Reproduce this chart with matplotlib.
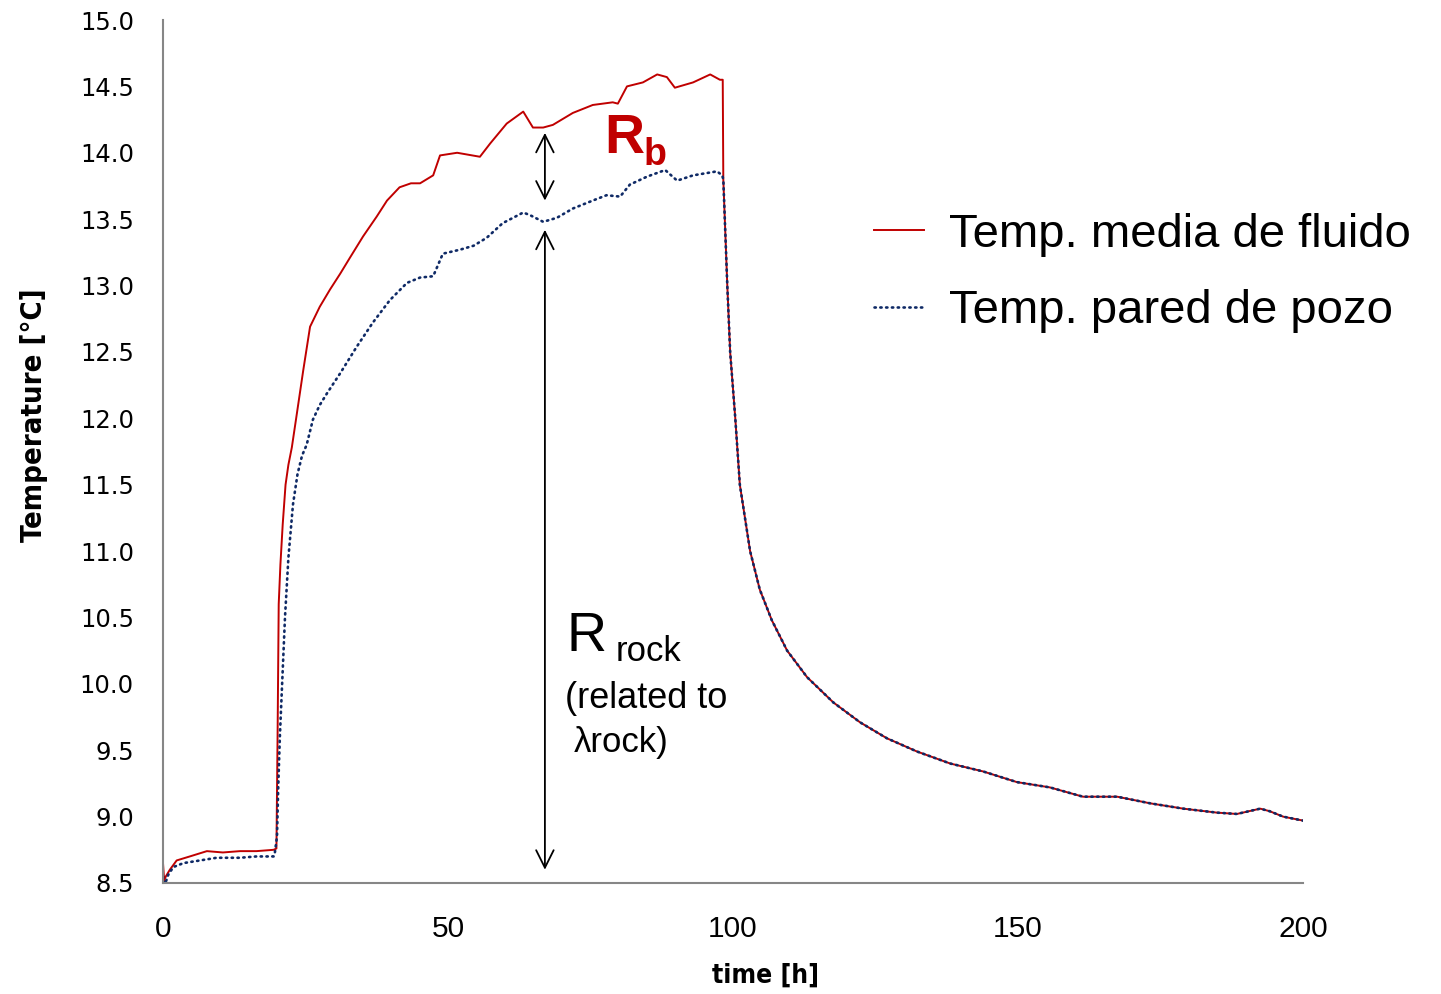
import matplotlib

matplotlib.use("Agg")

import matplotlib.pyplot as plt

# time [h] and temperature [C]
t_fluid_heat = [0.0, 0.2, 0.5, 1.2, 2.4, 4.7, 7.7, 10.5, 13.5, 16.4, 19.4, 19.9,
                20.1, 20.3, 20.6, 21.0, 21.5, 22.0, 22.6, 23.5, 24.6, 25.8, 27.5,
                29.3, 31.1, 32.8, 35.1, 37.5, 39.3, 41.5, 43.5, 45.1, 47.4, 48.6,
                51.6, 55.6, 57.4, 60.3, 63.2, 64.9, 66.7, 68.4, 71.9, 75.4, 78.9,
                79.8, 81.4, 84.2, 86.7, 88.4, 89.8, 93.0, 96.0, 97.7, 98.2]
v_fluid_heat = [8.65, 8.52, 8.55, 8.60, 8.67, 8.70, 8.74, 8.73, 8.74, 8.74, 8.75, 8.76,
                9.60, 10.60, 10.90, 11.20, 11.50, 11.65, 11.78, 12.04, 12.36, 12.69, 12.84,
                12.97, 13.09, 13.21, 13.37, 13.52, 13.64, 13.74, 13.77, 13.77, 13.83, 13.98,
                14.00, 13.97, 14.07, 14.22, 14.31, 14.19, 14.19, 14.21, 14.30, 14.36, 14.38,
                14.37, 14.50, 14.53, 14.59, 14.57, 14.49, 14.53, 14.59, 14.55, 14.55]

t_wall_heat = [0.0, 0.35, 0.9, 1.8, 3.6, 6.5, 9.4, 13.5, 16.4, 19.4, 19.6, 20.0,
               20.2, 20.5, 20.9, 21.4, 22.0, 22.8, 23.6, 24.4, 25.2, 26.3, 27.5,
               28.8, 31.1, 34.0, 36.8, 39.8, 42.8, 45.1, 47.4, 48.2, 49.1, 52.1,
               54.5, 56.8, 59.6, 63.2, 64.4, 66.7, 69.1, 71.9, 75.4, 77.8, 80.2,
               81.9, 84.9, 88.1, 90.2, 93.0, 97.2, 98.1]
v_wall_heat = [8.55, 8.49, 8.56, 8.62, 8.65, 8.67, 8.69, 8.69, 8.70, 8.70, 8.72, 8.85,
               9.20, 9.60, 10.00, 10.50, 10.95, 11.35, 11.58, 11.72, 11.80, 11.99, 12.10,
               12.19, 12.34, 12.54, 12.72, 12.89, 13.02, 13.06, 13.07, 13.15, 13.24, 13.27,
               13.30, 13.36, 13.47, 13.55, 13.53, 13.48, 13.51, 13.58, 13.64, 13.68, 13.67,
               13.76, 13.82, 13.87, 13.79, 13.83, 13.86, 13.83]

# recovery part: both curves lie on top of each other
t_decay = [98.3, 99.0, 99.5, 100.4, 101.2, 103.0, 104.7, 106.8, 109.5, 113.0, 117.6,
           122.3, 127.0, 132.3, 138.1, 143.9, 149.8, 155.6, 161.4, 167.4, 173.2,
           179.0, 184.9, 188.4, 192.5, 194.2, 196.5, 200.0]
v_decay = [13.80, 13.00, 12.50, 12.00, 11.50, 11.00, 10.71, 10.48, 10.25, 10.05, 9.86,
           9.71, 9.59, 9.49, 9.40, 9.34, 9.26, 9.22, 9.15, 9.15, 9.10,
           9.06, 9.03, 9.02, 9.06, 9.04, 9.00, 8.97]

labels = ["Temp. media de fluido", "Temp. pared de pozo"]
y_ticks = [8.5, 9.0, 9.5, 10.0, 10.5, 11.0, 11.5, 12.0, 12.5, 13.0, 13.5, 14.0, 14.5, 15.0]
x_ticks = [0, 50, 100, 150, 200]

RED = "#c00000"
NAVY = "#0f2a66"
GREY = "#868686"
SANS = ["Liberation Sans", "DejaVu Sans"]

fig = plt.figure(figsize=(14.41, 9.94), dpi=100)
ax = fig.add_axes([163 / 1441, 111 / 994, 1140 / 1441, 863 / 994])

ax.plot(t_fluid_heat + t_decay, v_fluid_heat + v_decay, color=RED, lw=1.4, label=labels[0])
ax.plot(t_wall_heat + t_decay, v_wall_heat + v_decay, color=NAVY, lw=1.9,
        linestyle=(0, (0.5, 1.7)), dash_capstyle="round", label=labels[1])

ax.set_xlim(0, 200)
ax.set_ylim(8.5, 15.0)
ax.set_xticks(x_ticks)
ax.set_xticklabels([str(v) for v in x_ticks], family=SANS, fontsize=21.5)
ax.set_yticks(y_ticks)
ax.set_yticklabels([f"{v:.1f}" for v in y_ticks], family="DejaVu Sans", fontsize=17.5)
ax.tick_params(axis="both", length=0)
ax.tick_params(axis="y", pad=21)
ax.tick_params(axis="x", pad=23)

for side in ("top", "right"):
    ax.spines[side].set_visible(False)
for side in ("left", "bottom"):
    ax.spines[side].set_color(GREY)
    ax.spines[side].set_linewidth(1.5)

ax.set_xlabel("time [h]", family="DejaVu Sans", fontstretch="condensed",
              fontweight="bold", fontsize=19)
ax.set_ylabel("Temperature [°C]", family="DejaVu Sans", fontstretch="condensed",
              fontweight="bold", fontsize=21)
ax.xaxis.set_label_coords((765 - 163) / 1140, -(963 - 883) / 863)
ax.yaxis.set_label_coords((48 - 163) / 1140, (883 - 415) / 863)

# arrows for the resistances
arrow = dict(arrowstyle="<->,head_length=0.9,head_width=0.45", lw=1.3, color="black",
             mutation_scale=14, shrinkA=0, shrinkB=0)
ax.annotate("", xy=(67.0, 14.15), xytext=(67.0, 13.64), arrowprops=arrow)
ax.annotate("", xy=(67.0, 13.42), xytext=(67.0, 8.60), arrowprops=arrow)

ax.text(77.4, 14.0, "R", color=RED, fontsize=40, fontweight="bold", family=SANS,
        va="baseline", ha="left")
ax.text(84.3, 13.91, "b", color=RED, fontsize=27, fontweight="bold", family=SANS,
        va="baseline", ha="left")
ax.text(70.8, 10.25, "R", color="black", fontsize=40, family=SANS, va="baseline", ha="left")
ax.text(79.4, 10.17, "rock", color="black", fontsize=25, family=SANS, va="baseline", ha="left")
ax.text(70.6, 9.89, "(related to", color="black", fontsize=26, family=SANS,
        va="center", ha="left")
ax.text(72.0, 9.56, "λrock)", color="black", fontsize=25, family=SANS,
        va="center", ha="left")

ax.legend(loc="upper left", bbox_to_anchor=(874 / 1441, 1 - 213 / 994),
          bbox_transform=fig.transFigure, frameon=False,
          prop={"family": SANS, "size": 34}, handlelength=1.06, handletextpad=0.52,
          labelspacing=0.68, borderaxespad=0, borderpad=0)

fig.savefig("out.png", dpi=100)
